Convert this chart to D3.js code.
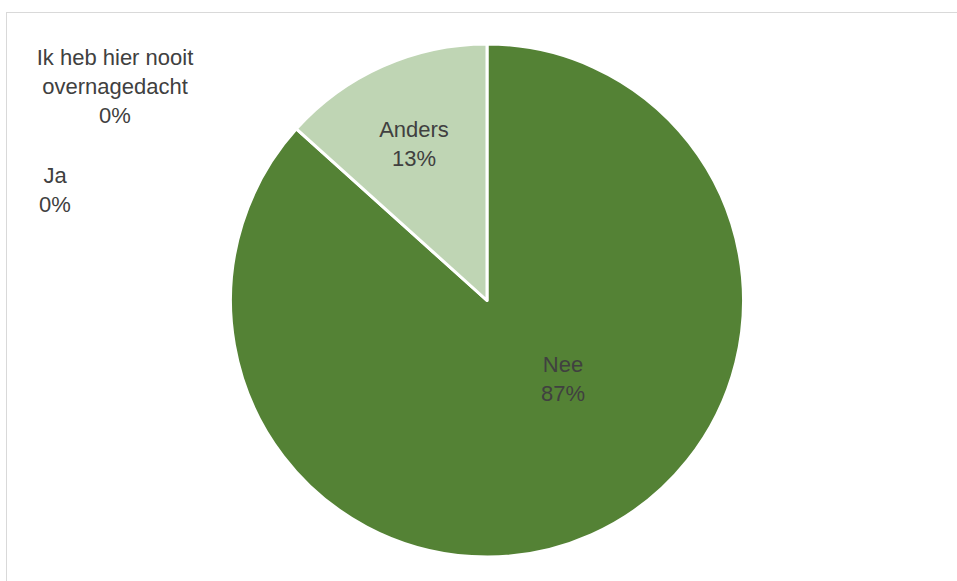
<!DOCTYPE html>
<html><head><meta charset="utf-8">
<script src="https://cdn.jsdelivr.net/npm/d3@7"></script>
<style>html,body{margin:0;padding:0;background:#fff;} svg{display:block;}</style>
</head><body>
<script>
const categories = ["Nee", "Anders", "Ja", "Ik heb hier nooit overnagedacht"];
const values = [13, 2, 0, 0];
const labelLines = [["Nee"], ["Anders"], ["Ja"], ["Ik heb hier nooit", "overnagedacht"]];
const colors = ["#548235", "#BFD5B4", "#A9D08E", "#E2EFDA"];

const W = 957, H = 581;
const cx = 487, cy = 300.5, R = 256.5;
// label block anchors (first line baseline centre) in page coords
const labelAnchor = [[563, 371.5], [414, 137.3], [55, 183.3], [115, 65]];
const lineH = 29;

const total = d3.sum(values);
const pct = v => Math.round(v / total * 100) + "%";

const svg = d3.select("body").append("svg").attr("width", W).attr("height", H);
svg.append("rect").attr("x", 6.5).attr("y", 12.5).attr("width", W + 10).attr("height", H + 10)
  .attr("fill", "#fff").attr("stroke", "#d9d9d9").attr("stroke-width", 1);

const pie = d3.pie().sort(null).value(d => d)(values);
const arc = d3.arc().innerRadius(0).outerRadius(R);
const g = svg.append("g").attr("transform", `translate(${cx},${cy})`);
g.selectAll("path").data(pie.filter(d => d.value > 0)).join("path")
  .attr("d", arc).attr("fill", d => colors[d.index])
  .attr("stroke", "#fff").attr("stroke-width", 3).attr("stroke-linejoin", "round");

const lab = svg.append("g").attr("font-family", "'Liberation Sans', Arial, sans-serif")
  .attr("font-size", 22).attr("fill", "#404040").attr("text-anchor", "middle");
categories.forEach((c, i) => {
  const lines = labelLines[i].concat([pct(values[i])]);
  const [x, y] = labelAnchor[i];
  const t = lab.append("text");
  lines.forEach((l, k) => t.append("tspan").attr("x", x).attr("y", y + k * lineH).text(l));
});
</script>
</body></html>
